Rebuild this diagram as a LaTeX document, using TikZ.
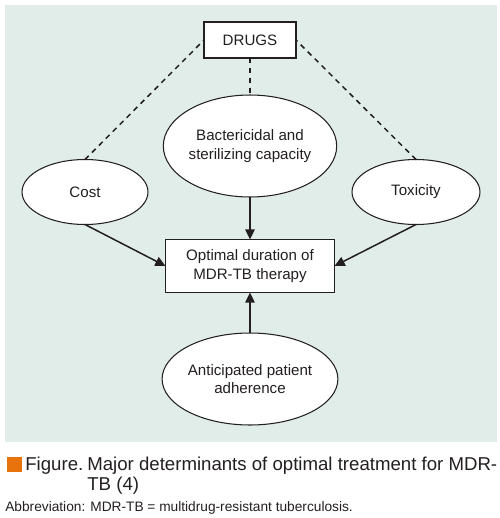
\documentclass[tikz,border=0pt]{standalone}
\usepackage{fontspec}
\setmainfont{Liberation Sans}
\usetikzlibrary{shapes.geometric,arrows.meta}
\definecolor{panelgreen}{HTML}{E1EDE8}
\definecolor{figorange}{HTML}{E8730C}
\definecolor{inkgray}{HTML}{231F20}

\tikzset{
  drugbox/.style={draw=inkgray, fill=white, line width=0.6pt, inner sep=0pt, outer sep=0pt,
    align=center, text=inkgray, font=\fontsize{8.6}{10.5}\selectfont},
  factor/.style={ellipse, draw=inkgray, fill=white, line width=0.6pt, inner sep=0pt, outer sep=0pt,
    align=center, text=inkgray, font=\fontsize{8.6}{10.5}\selectfont},
  link/.style={draw=inkgray, line width=0.85pt, dash pattern=on 3pt off 2.6pt},
  push/.style={draw=inkgray, line width=0.85pt, -{Triangle[length=5.8pt,width=5.4pt]}}
}

\begin{document}
\begin{tikzpicture}[x=0.02cm, y=-0.02cm]
    \useasboundingbox (0,0) rectangle (500,518);
    % panel
    \fill[panelgreen] (5,5) rectangle (497,442);

    % boxes and ellipses
    \node[drugbox, minimum width=1.84cm, minimum height=0.72cm] (drugs) at (250,40) {DRUGS};
    \node[factor, minimum width=3.46cm, minimum height=2.04cm] (bact) at (250,146) {Bactericidal and\\sterilizing capacity};
    \node[factor, minimum width=2.52cm, minimum height=1.30cm] (cost) at (85,192) {Cost};
    \node[factor, minimum width=2.56cm, minimum height=1.30cm] (tox) at (416,192) {Toxicity};
    \node[drugbox, minimum width=3.38cm, minimum height=1.06cm] (opt) at (250,266) {Optimal duration of\\MDR-TB therapy};
    \node[factor, minimum width=3.46cm, minimum height=1.84cm] (adh) at (250,379) {Anticipated patient\\adherence};

    % drugs to factors
    \draw[link] (cost.north) -- (drugs.west);
    \draw[link] (drugs.south) -- (bact.north);
    \draw[link] (tox.north) -- (drugs.east);

    % factors to duration
    \draw[push] (cost.south) -- (opt.west);
    \draw[push] (bact.south) -- (opt.north);
    \draw[push] (tox.south) -- (opt.east);
    \draw[push] (adh.north) -- (opt.south);

    % caption
    \fill[figorange] (7,457) rectangle (22,472);
    \node[anchor=base west, inner sep=0pt, text=inkgray, font=\fontsize{10.6}{12}\selectfont] (fig) at (25,470) {Figure.};
    \node[anchor=base west, inner sep=0pt, text=inkgray, font=\fontsize{10.6}{12}\selectfont] (capa) at (87,470) {Major determinants of optimal treatment for MDR-};
    \node[anchor=base west, inner sep=0pt, text=inkgray, font=\fontsize{10.6}{12}\selectfont] (capb) at (87,490) {TB (4)};
    \node[anchor=base west, inner sep=0pt, text=inkgray, font=\fontsize{7.8}{9}\selectfont] (abbr) at (5,511) {Abbreviation: MDR-TB = multidrug-resistant tuberculosis.};
\end{tikzpicture}
\end{document}
